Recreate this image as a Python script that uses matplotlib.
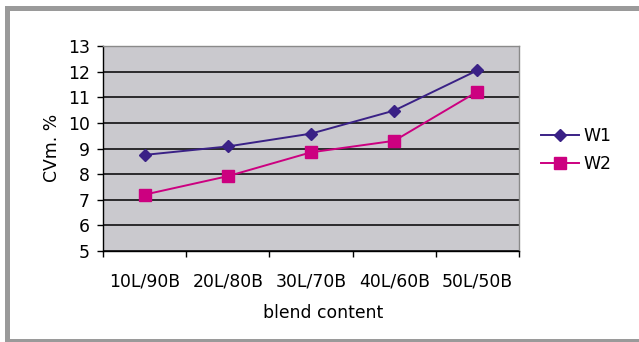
import matplotlib
matplotlib.use("Agg")
import matplotlib.pyplot as plt
from matplotlib.patches import Rectangle
from matplotlib.ticker import FixedLocator, NullFormatter

plt.rcParams['font.family'] = ['DejaVu Sans']

categories = ["10L/90B", "20L/80B", "30L/70B", "40L/60B", "50L/50B"]
w1 = [8.75, 9.08, 9.58, 10.48, 12.05]
w2 = [7.2, 7.92, 8.85, 9.3, 11.22]
series_names = ["W1", "W2"]
y_ticks = [5, 6, 7, 8, 9, 10, 11, 12, 13]

W, H = 639, 342
FS = 12.4
fig = plt.figure(figsize=(W / 100, H / 100), dpi=100)
fig.patch.set_facecolor("white")

# outer chart frame
fig.patches.append(Rectangle((6.5 / W, 1 - 340.5 / H), 700 / W, (340.5 - 7.5) / H,
                             transform=fig.transFigure, facecolor="white",
                             edgecolor="#9a9a9a", linewidth=3.6, zorder=-5))

ax = fig.add_axes([103 / W, 1 - 251 / H, 416 / W, 205 / H])
ax.set_zorder(1)
ax.set_facecolor("#cac9ce")

x = list(range(len(categories)))
ax.plot(x, w1, color="#3a2186", lw=1.4, marker="D", ms=5.8, zorder=3, label=series_names[0])
ax.plot(x, w2, color="#cc0080", lw=1.4, marker="s", ms=8, zorder=3, label=series_names[1])

ax.set_xlim(-0.5, len(categories) - 0.5)
ax.set_ylim(5, 13)
ax.set_yticks(y_ticks)
ax.yaxis.grid(True, color="black", lw=1.1)
ax.set_axisbelow(True)

ax.set_xticks(x)
ax.set_xticklabels(categories, fontsize=FS)
ax.xaxis.set_minor_locator(FixedLocator([i - 0.5 for i in range(len(categories) + 1)]))
ax.xaxis.set_minor_formatter(NullFormatter())
ax.tick_params(axis="x", which="major", length=0, pad=15.5)
ax.tick_params(axis="x", which="minor", length=4.3, width=1.0, color="black", direction="out")
ax.tick_params(axis="y", length=4.3, width=1.0, pad=5, labelsize=FS, direction="out")

for s in ("top", "right"):
    ax.spines[s].set_color("#8a8a8a")
    ax.spines[s].set_linewidth(1.0)
for s in ("left", "bottom"):
    ax.spines[s].set_color("black")
    ax.spines[s].set_linewidth(1.0)

fig.text(52 / W, 1 - 148 / H, "CVm. %", rotation=90, ha="center", va="center", fontsize=FS)
fig.text(323 / W, 1 - 313 / H, "blend content", ha="center", va="center", fontsize=FS)

ax.legend(loc="center left", bbox_to_anchor=(541 / W, 1 - 150 / H), bbox_transform=fig.transFigure,
          frameon=False, fontsize=FS, handlelength=2.2, handletextpad=0.25,
          borderpad=0, borderaxespad=0, labelspacing=0.6)

fig.savefig("out.png", dpi=100)
